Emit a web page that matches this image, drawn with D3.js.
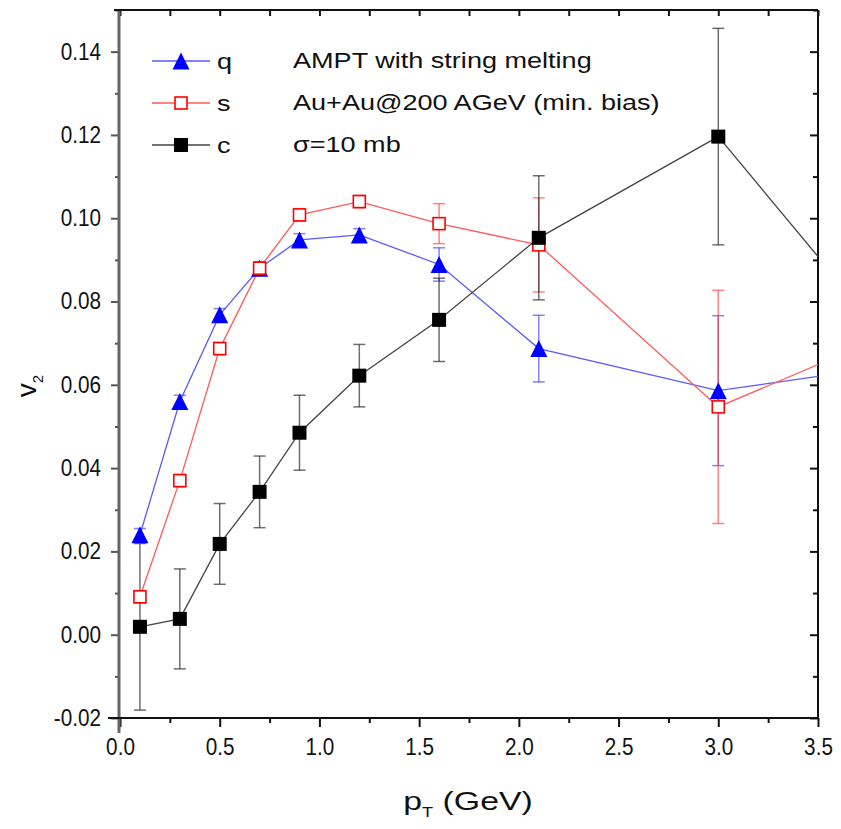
<!DOCTYPE html>
<html>
<head>
<meta charset="utf-8">
<script src="https://cdn.jsdelivr.net/npm/d3@7"></script>
<style>
  body { margin: 0; background: #fff; }
  text { font-family: "Liberation Sans", Arial, sans-serif; fill: #111; }
</style>
</head>
<body>
<div id="chart"></div>
<script>
// pT bins (GeV); the last one sits outside the frame, only the line to it shows
let pt = [0.1, 0.3, 0.5, 0.7, 0.9, 1.2, 1.6, 2.1, 3.0, 4.0]

// v2 for quarks q, s, c with errors
let qV2  = [0.024, 0.056, 0.0768, 0.088, 0.0948, 0.096, 0.0889, 0.0687, 0.0586, 0.0655]
let qErr = [0.0015, 0.0015, 0.0015, 0.0015, 0.0015, 0.0015, 0.004, 0.008, 0.018, 0]
let sV2  = [0.0091, 0.037, 0.0687, 0.088, 0.1008, 0.104, 0.0987, 0.0936, 0.0547, 0.075]
let sErr = [0.0015, 0.0015, 0.0015, 0.0015, 0.0015, 0.0015, 0.0048, 0.0113, 0.028, 0]
let cV2  = [0.0019, 0.0038, 0.0218, 0.0343, 0.0485, 0.0622, 0.0756, 0.0953, 0.1196, 0.062]
let cErr = [0.020, 0.012, 0.0097, 0.0086, 0.009, 0.0075, 0.010, 0.0149, 0.026, 0]

let xMajor = [0, 0.5, 1.0, 1.5, 2.0, 2.5, 3.0, 3.5]
let xMinor = [0.25, 0.75, 1.25, 1.75, 2.25, 2.75, 3.25]
let yMajor = [-0.02, 0, 0.02, 0.04, 0.06, 0.08, 0.10, 0.12, 0.14]
let yMinor = [-0.01, 0.01, 0.03, 0.05, 0.07, 0.09, 0.11, 0.13, 0.15]

let notes = ["AMPT with string melting", "Au+Au@200 AGeV (min. bias)", "\u03c3=10 mb"]

let series = [
  {name: "q", v: qV2, e: qErr, line: "#5a5aff", bar: "#3c3cff", mark: "tri"},
  {name: "s", v: sV2, e: sErr, line: "#ff5a5a", bar: "#ff4040", mark: "open"},
  {name: "c", v: cV2, e: cErr, line: "#444", bar: "#222", mark: "sq"}
]

let W = 841, H = 829
let L = 120, R = 818, T = 10, B = 718
let squeeze = 0.9   // tick labels look narrow
let stretch = 1.23  // notes look wide

let x = d3.scaleLinear().domain([0, 3.5]).range([L, R])
let y = d3.scaleLinear().domain([-0.02, 0.15]).range([B, T])

let svg = d3.select("#chart").append("svg")
  .attr("width", W).attr("height", H)

svg.append("clipPath").attr("id", "clip")
  .append("rect").attr("x", L).attr("y", T).attr("width", R - L).attr("height", B - T)

let fmtY = d => d3.format(".2f")(d).replace("\u2212", "-")

// axes: bottom & left ticks outward, top & right inward
svg.append("g").attr("class", "xl").attr("transform", `translate(0,${B})`)
  .call(d3.axisBottom(x).tickValues(xMajor).tickSize(9).tickPadding(12).tickFormat(d3.format(".1f")))
  .call(g => g.select(".domain").remove())
svg.append("g").attr("transform", `translate(0,${B})`)
  .call(d3.axisBottom(x).tickValues(xMinor).tickSize(5).tickFormat(""))
  .call(g => g.select(".domain").remove())
svg.append("g").attr("transform", `translate(0,${T})`)
  .call(d3.axisBottom(x).tickValues(xMajor.concat(xMinor)).tickSize(6).tickFormat(""))
  .call(g => g.select(".domain").remove())

svg.append("g").attr("class", "yl").attr("transform", `translate(${L},0)`)
  .call(d3.axisLeft(y).tickValues(yMajor).tickSize(9).tickFormat(fmtY))
  .call(g => g.select(".domain").remove())
svg.append("g").attr("class", "yl").attr("transform", `translate(${L},0)`)
  .call(d3.axisLeft(y).tickValues(yMinor).tickSize(5).tickFormat(""))
  .call(g => g.select(".domain").remove())
svg.append("g").attr("transform", `translate(${R},0)`)
  .call(d3.axisLeft(y).tickValues(yMajor).tickSize(8).tickFormat(""))
  .call(g => g.select(".domain").remove())
svg.append("g").attr("transform", `translate(${R},0)`)
  .call(d3.axisLeft(y).tickValues(yMinor).tickSize(5).tickFormat(""))
  .call(g => g.select(".domain").remove())

svg.selectAll(".tick line").attr("stroke", "#111").attr("stroke-width", 2)
svg.selectAll(".yl .tick line").attr("stroke", "#555")
svg.selectAll(".tick text").style("font-size", "23px").attr("fill", "#111")
  .attr("transform", `scale(${squeeze},1)`)
svg.selectAll(".yl .tick text").attr("x", -19 / squeeze)

// frame
svg.append("line").attr("x1", L - 1).attr("x2", L - 1).attr("y1", T).attr("y2", B + 15)
  .attr("stroke", "#666").attr("stroke-width", 3)
svg.append("line").attr("x1", L - 12).attr("x2", R).attr("y1", B).attr("y2", B)
  .attr("stroke", "#111").attr("stroke-width", 2)
svg.append("line").attr("x1", L - 6).attr("x2", R).attr("y1", T).attr("y2", T)
  .attr("stroke", "#111").attr("stroke-width", 2)
svg.append("line").attr("x1", R).attr("x2", R).attr("y1", T).attr("y2", B)
  .attr("stroke", "#111").attr("stroke-width", 2)

// markers
function marker(g, kind) {
  if (kind === "tri") {
    g.append("path").attr("d", "M0,-8.5L8.5,8.5L-8.5,8.5Z").attr("fill", "#0000ff")
  } else if (kind === "open") {
    g.append("rect").attr("x", -6).attr("y", -6).attr("width", 12).attr("height", 12)
      .attr("fill", "#fff").attr("stroke", "#ff0000").attr("stroke-width", 1.6)
  } else {
    g.append("rect").attr("x", -7).attr("y", -7).attr("width", 14).attr("height", 14)
      .attr("fill", "#000")
  }
}

let plot = svg.append("g").attr("clip-path", "url(#clip)")

let line = d3.line().x(d => x(d.p)).y(d => y(d.v))

series.forEach(s => {
  let pts = pt.map((p, i) => ({p: p, v: s.v[i], e: s.e[i]}))
  plot.append("path").datum(pts).attr("d", line)
    .attr("fill", "none").attr("stroke", s.line).attr("stroke-width", 1.3)

  let eb = plot.append("g").attr("stroke", s.bar).attr("stroke-width", 1.5).attr("stroke-opacity", 0.65)
  pts.filter(d => d.e > 0).forEach(d => {
    eb.append("line").attr("x1", x(d.p)).attr("x2", x(d.p)).attr("y1", y(d.v - d.e)).attr("y2", y(d.v + d.e))
    eb.append("line").attr("x1", x(d.p) - 6).attr("x2", x(d.p) + 6).attr("y1", y(d.v - d.e)).attr("y2", y(d.v - d.e))
    eb.append("line").attr("x1", x(d.p) - 6).attr("x2", x(d.p) + 6).attr("y1", y(d.v + d.e)).attr("y2", y(d.v + d.e))
  })
})

series.forEach(s => {
  pt.forEach((p, i) => {
    let g = plot.append("g").attr("transform", `translate(${x(p)},${y(s.v[i])})`)
    marker(g, s.mark)
  })
})

// legend
series.forEach((s, i) => {
  let ly = 61 + i * 42
  svg.append("line").attr("x1", 152).attr("x2", 210).attr("y1", ly).attr("y2", ly)
    .attr("stroke", s.line).attr("stroke-width", 1.3)
  let g = svg.append("g").attr("transform", `translate(181,${ly})`)
  marker(g, s.mark)
  svg.append("text").attr("transform", `translate(217,${ly + 8}) scale(${stretch},1)`)
    .style("font-size", "22px").text(s.name)
})

// notes
notes.forEach((t, i) => {
  svg.append("text").attr("transform", `translate(293,${68 + i * 42}) scale(${stretch},1)`)
    .style("font-size", "22px").text(t)
})

// axis titles
let xt = svg.append("text").attr("transform", `translate(468,810) scale(1.3,1)`)
  .attr("text-anchor", "middle").style("font-size", "26px")
xt.append("tspan").text("p")
xt.append("tspan").attr("dy", 7).style("font-size", "14px").text("T")
xt.append("tspan").attr("dy", -7).text(" (GeV)")

let yt = svg.append("text").attr("transform", "translate(36,386) rotate(-90)")
  .attr("text-anchor", "middle").style("font-size", "28px")
yt.append("tspan").text("v")
yt.append("tspan").attr("dy", 7).style("font-size", "15px").text("2")
</script>
</body>
</html>
